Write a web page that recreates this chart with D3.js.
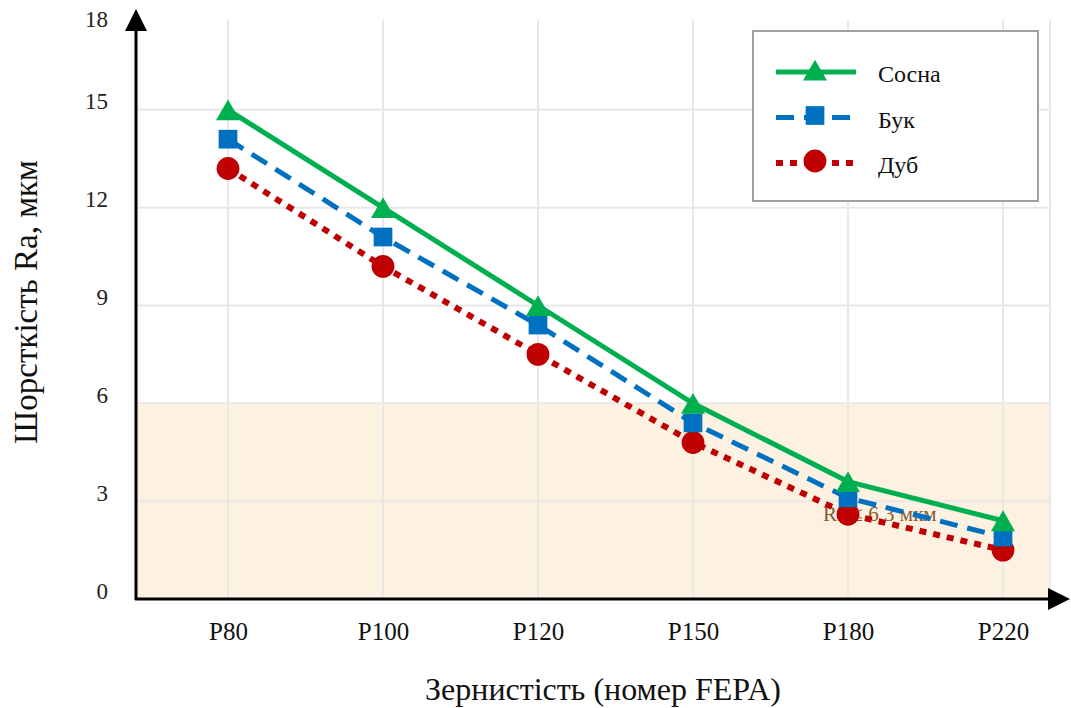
<!DOCTYPE html>
<html>
<head>
<meta charset="utf-8">
<script src="https://cdn.jsdelivr.net/npm/d3@7"></script>
<style>
  html, body { margin: 0; padding: 0; background: #ffffff; }
  svg { display: block; font-family: "Liberation Serif", "DejaVu Serif", serif; }
</style>
</head>
<body>
<svg id="chart" width="1071" height="708"></svg>
<script>
// Grit numbers (FEPA) and roughness Ra, µm, for each wood species
const categories = ["P80", "P100", "P120", "P150", "P180", "P220"];
const pine  = [15.0, 12.0, 9.0, 6.0, 3.6, 2.4];   // Сосна
const beech = [14.1, 11.1, 8.4, 5.4, 3.1, 1.9];   // Бук
const oak   = [13.2, 10.2, 7.5, 4.8, 2.6, 1.5];   // Дуб
const yTicks = [0, 3, 6, 9, 12, 15, 18];
const seriesNames = ["Сосна", "Бук", "Дуб"];
const zoneLimit = 6;            // shaded acceptable-roughness zone
const zoneLabel = "Ra ≤ 6,3 мкм";

const svg = d3.select("#chart");
const plotLeft = 136, plotRight = 1050, plotTop = 12, plotBottom = 599;

const x = d3.scalePoint().domain(categories).range([228, 1003]);
const y = d3.scaleLinear().domain([0, 18]).range([plotBottom, plotTop]);

// shaded zone
svg.append("rect")
  .attr("x", plotLeft).attr("y", y(zoneLimit))
  .attr("width", plotRight - plotLeft).attr("height", y(0) - y(zoneLimit))
  .attr("fill", "#fdf2e2");

// grid
const grid = svg.append("g").attr("stroke", "#e8e8e8").attr("stroke-width", 2);
grid.selectAll("line.h").data(yTicks.filter(d => d > 0 && d < 18)).join("line")
  .attr("class", "h")
  .attr("x1", plotLeft).attr("x2", plotRight)
  .attr("y1", d => y(d)).attr("y2", d => y(d));
grid.selectAll("line.v").data(categories).join("line")
  .attr("class", "v")
  .attr("x1", d => x(d)).attr("x2", d => x(d))
  .attr("y1", 20).attr("y2", plotBottom);
grid.append("line").attr("x1", plotRight).attr("x2", plotRight).attr("y1", 20).attr("y2", plotBottom);

// axes with arrowheads
const axisG = svg.append("g");
axisG.append("line").attr("x1", plotLeft).attr("x2", plotLeft).attr("y1", plotBottom + 1).attr("y2", 24)
  .attr("stroke", "#000").attr("stroke-width", 3);
axisG.append("path").attr("d", `M${plotLeft - 11},31 L${plotLeft},9 L${plotLeft + 11},31 Z`).attr("fill", "#000");
axisG.append("line").attr("x1", plotLeft - 1).attr("x2", 1055).attr("y1", plotBottom).attr("y2", plotBottom)
  .attr("stroke", "#000").attr("stroke-width", 3);
axisG.append("path").attr("d", `M1048,${plotBottom - 11} L1070,${plotBottom} L1048,${plotBottom + 11} Z`).attr("fill", "#000");

// tick labels via d3 axes (lines hidden); labels sit just above their gridline
const yAxis = svg.append("g").attr("transform", `translate(${plotLeft},0)`)
  .call(d3.axisLeft(y).tickValues(yTicks).tickSize(0).tickPadding(28));
yAxis.select(".domain").remove();
yAxis.selectAll(".tick").attr("transform", d => `translate(0,${Math.max(y(d), 27)})`);
yAxis.selectAll("text").attr("font-size", 23).attr("fill", "#222").attr("dy", "-0.02em")
  .attr("font-family", "Liberation Serif, serif");

const xAxis = svg.append("g").attr("transform", `translate(0,${plotBottom})`)
  .call(d3.axisBottom(x).tickSize(0).tickPadding(23));
xAxis.select(".domain").remove();
xAxis.selectAll("text").attr("font-size", 25).attr("fill", "#111")
  .attr("font-family", "Liberation Serif, serif");

// axis titles
svg.append("text").attr("x", 603).attr("y", 700).attr("text-anchor", "middle")
  .attr("font-size", 32).attr("fill", "#111").text("Зернистість (номер FEPA)");
svg.append("text").attr("transform", "translate(37,302) rotate(-90)").attr("text-anchor", "middle")
  .attr("font-size", 33).attr("fill", "#111").text("Шорсткість Ra, мкм");

// zone annotation
svg.append("text").attr("x", 823).attr("y", 521).attr("font-size", 21)
  .attr("fill", "#8a5a2e").text(zoneLabel);

const series = [
  { name: seriesNames[0], values: pine,  color: "#00b050", dash: null,   width: 5, marker: "triangle" },
  { name: seriesNames[1], values: beech, color: "#0070c0", dash: "18,10", width: 5, marker: "square" },
  { name: seriesNames[2], values: oak,   color: "#c00000", dash: "7,7",  width: 6, marker: "circle" }
];

const symbolFor = {
  triangle: d3.symbol().type(d3.symbolTriangle).size(250),
  square: d3.symbol().type(d3.symbolSquare).size(350),
  circle: d3.symbol().type(d3.symbolCircle).size(410)
};
// the triangle path is centred on its centroid; shift it so its box is centred
const markerShift = { triangle: 3.5, square: 0, circle: 0 };

const line = d3.line().x((d, i) => x(categories[i])).y(d => y(d));

// draw from bottom series to top so Сосна sits above
[...series].reverse().forEach(s => {
  const g = svg.append("g");
  g.append("path").datum(s.values).attr("d", line)
    .attr("fill", "none").attr("stroke", s.color).attr("stroke-width", s.width)
    .attr("stroke-dasharray", s.dash);
  g.selectAll("path.m").data(s.values).join("path")
    .attr("class", "m")
    .attr("transform", (d, i) => `translate(${x(categories[i])},${y(d) + markerShift[s.marker]})`)
    .attr("d", symbolFor[s.marker]).attr("fill", s.color);
});

// legend
const lg = svg.append("g");
lg.append("rect").attr("x", 753).attr("y", 31).attr("width", 285).attr("height", 170)
  .attr("fill", "#fff").attr("stroke", "#a0a0a0").attr("stroke-width", 2);
series.forEach((s, i) => {
  const cy = 72 + i * 45.5;
  lg.append("line").attr("x1", 776).attr("x2", 856).attr("y1", cy).attr("y2", cy)
    .attr("stroke", s.color).attr("stroke-width", s.width).attr("stroke-dasharray", s.dash);
  lg.append("path").attr("transform", `translate(815,${cy + markerShift[s.marker] - 2})`)
    .attr("d", symbolFor[s.marker]).attr("fill", s.color);
  lg.append("text").attr("x", 878).attr("y", cy + 10).attr("font-size", 24).attr("fill", "#111").text(s.name);
});
</script>
</body>
</html>
